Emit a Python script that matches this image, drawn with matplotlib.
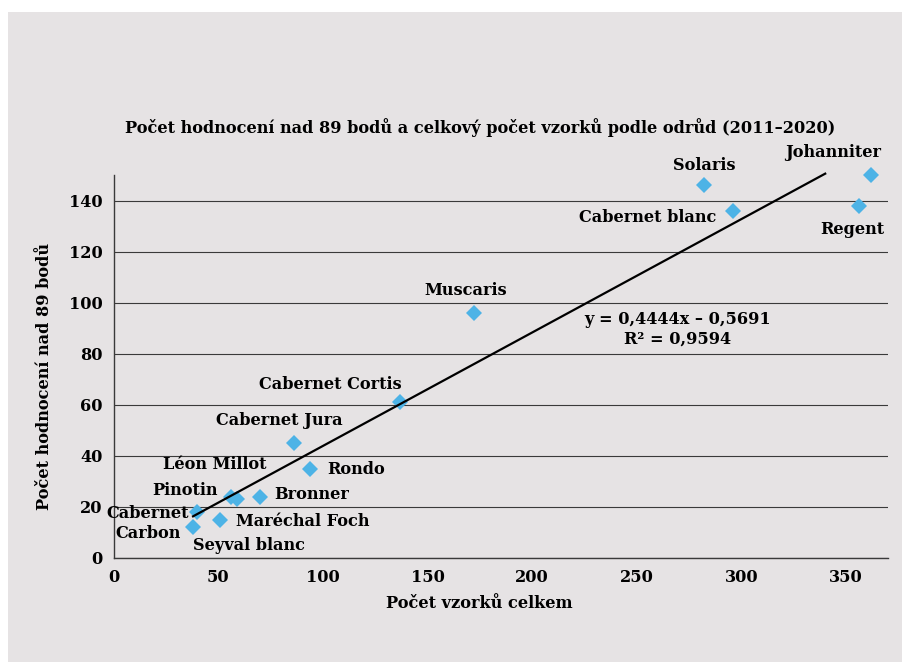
import numpy as np
import matplotlib
matplotlib.use("Agg")
import matplotlib.pyplot as plt
from matplotlib.patches import Rectangle

# values
odrudy = ["Solaris", "Johanniter", "Cabernet blanc", "Regent", "Muscaris",
          "Cabernet Cortis", "Cabernet Jura", "Rondo", "Pinotin", "Léon Millot",
          "Bronner", "Maréchal Foch", "Cabernet\nCarbon", "Seyval blanc"]
vzorky = [282, 362, 296, 356, 172, 137, 86, 94, 56, 59, 70, 51, 38, 40]
nad89 = [146, 150, 136, 138, 96, 61, 45, 35, 24, 23, 24, 15, 12, 18]

# trendline from the reference label
slope = 0.4444
intercept = -0.5691
r2 = 0.9594
trend_end = 340

# label placement: (dx px, dy px, ha)
label_pos = {
    "Solaris": (0, 20, "center"),
    "Johanniter": (-38, 22, "center"),
    "Cabernet blanc": (-17, -7, "right"),
    "Regent": (-6, -24, "center"),
    "Muscaris": (-8, 22, "center"),
    "Cabernet Cortis": (-70, 18, "center"),
    "Cabernet Jura": (-14, 23, "center"),
    "Rondo": (17, -1, "left"),
    "Pinotin": (-13, 6, "right"),
    "Léon Millot": (-22, 35, "center"),
    "Bronner": (14, 2, "left"),
    "Maréchal Foch": (16, -2, "left"),
    "Cabernet\nCarbon": (-4, 4, "right"),
    "Seyval blanc": (-4, -33, "left"),
}

bg = "#e6e3e4"
blue = "#4db3e6"
plt.rcParams["font.family"] = ["DejaVu Serif"]
plt.rcParams["font.weight"] = "bold"
fs = 11.6

fig = plt.figure(figsize=(9.02, 6.62), dpi=100)
fig.patch.set_facecolor("white")
fig.patches.append(Rectangle((8 / 902, 0), 1, 1 - 12 / 662, transform=fig.transFigure,
                             facecolor=bg, edgecolor="none", zorder=-10))

ax = fig.add_axes([113.5 / 902, 1 - 558 / 662, (888 - 113.5) / 902, (558 - 175) / 662])
ax.set_facecolor("none")

ax.set_xlim(0, 370)
ax.set_ylim(0, 150)
ax.set_xticks(np.arange(0, 351, 50))
ax.set_yticks(np.arange(0, 141, 20))
ax.grid(axis="y", color="#3a3a3a", linewidth=0.8)
ax.set_axisbelow(True)
for s in ["top", "right"]:
    ax.spines[s].set_visible(False)
for s in ["left", "bottom"]:
    ax.spines[s].set_color("#3a3a3a")
    ax.spines[s].set_linewidth(1.0)
ax.tick_params(length=0, labelsize=fs, pad=8)
for lab in ax.get_xticklabels() + ax.get_yticklabels():
    lab.set_fontweight("bold")

ax.plot(vzorky, nad89, linestyle="none", marker="D", markersize=8.5,
        color=blue, markeredgewidth=0, zorder=3, clip_on=False)

tx = np.array([min(vzorky), trend_end])
ax.plot(tx, slope * tx + intercept, color="black", linewidth=1.6, zorder=4, clip_on=False)

for name, x, y in zip(odrudy, vzorky, nad89):
    dx, dy, ha = label_pos[name]
    ax.annotate(name, (x, y), xytext=(dx, dy), textcoords="offset pixels",
                ha=ha, va="center", fontsize=fs, fontweight="bold",
                multialignment="center", zorder=5, annotation_clip=False)

eq = "y = {:.4f}x \u2013 {:.4f}".format(slope, abs(intercept)).replace(".", ",")
ax.text(269.7, 89.5, eq + "\nR\u00b2 = {:.4f}".format(r2).replace(".", ","),
        ha="center", va="center", fontsize=fs, fontweight="bold", linespacing=1.2)

fig.text(480 / 902, 1 - 128 / 662,
         "Počet hodnocení nad 89 bodů a celkový počet vzorků podle odrůd (2011–2020)",
         ha="center", va="center", fontsize=fs, fontweight="bold")
fig.text(479 / 902, 1 - 604 / 662, "Počet vzorků celkem",
         ha="center", va="center", fontsize=fs, fontweight="bold")
fig.text(45 / 902, 1 - 376 / 662, "Počet hodnocení nad 89 bodů", rotation=90,
         ha="center", va="center", fontsize=fs, fontweight="bold")

fig.savefig("out.png", dpi=100, facecolor=fig.get_facecolor())
